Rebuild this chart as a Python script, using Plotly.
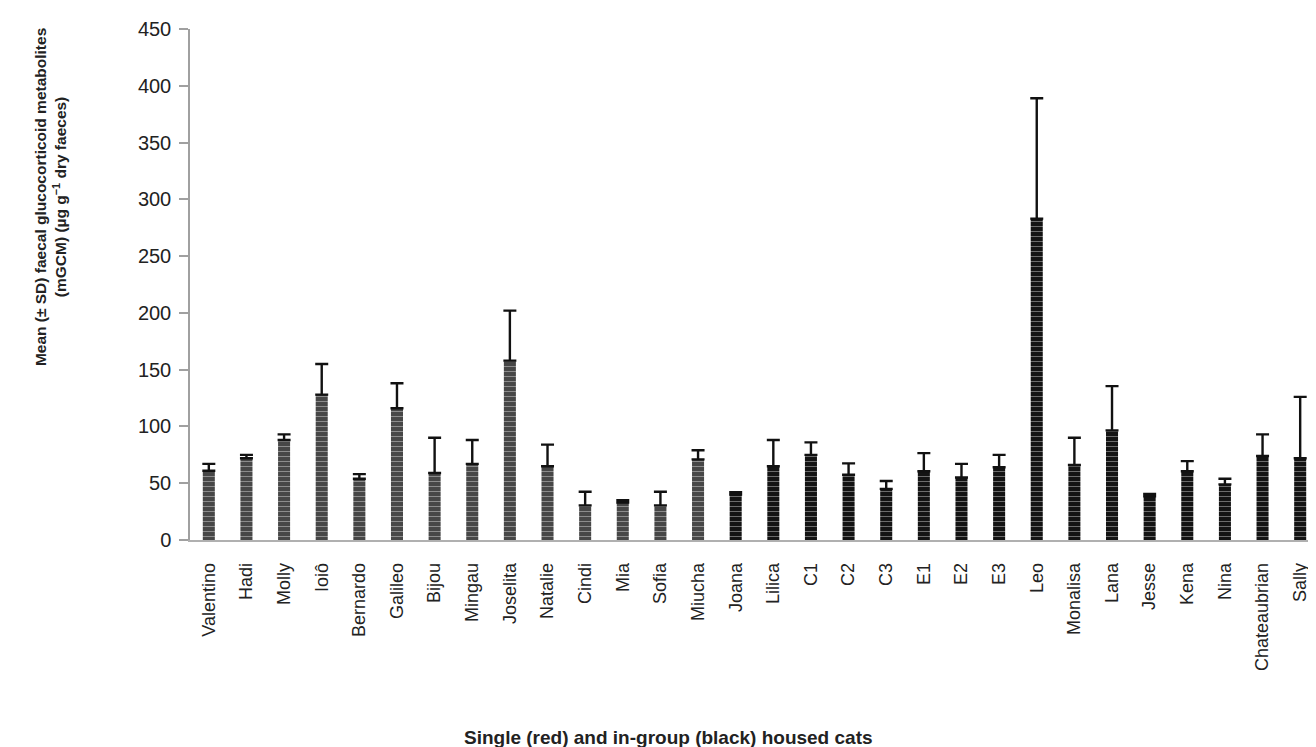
import plotly.graph_objects as go

cats = ["Valentino", "Hadi", "Molly", "Ioiô", "Bernardo", "Galileo", "Bijou", "Mingau",
        "Joselita", "Natalie", "Cindi", "Mia", "Sofia", "Miucha", "Joana", "Lilica",
        "C1", "C2", "C3", "E1", "E2", "E3", "Leo", "Monalisa", "Lana", "Jesse", "Kena",
        "Nina", "Chateaubrian", "Sally"]
mean_gcm = [61, 72, 88, 128, 54, 116, 59, 67,
            158, 65, 30.5, 33, 30.5, 71, 40, 65,
            75, 57.5, 45, 60.5, 55, 64, 283, 66, 96.5, 38.5, 60.5,
            49, 74, 72]
sd_gcm = [6, 3, 5, 27, 4, 22, 31, 21,
          44, 19, 12, 2, 12, 8, 2, 23,
          11, 10, 7, 16, 12, 11, 106, 24, 39, 2, 9,
          5, 19, 54]
housing = ["single", "single", "single", "single", "single", "single", "single", "single",
           "single", "single", "single", "single", "single", "single", "group", "group",
           "group", "group", "group", "group", "group", "group", "group", "group", "group",
           "group", "group", "group", "group", "group"]
y_ticks = [0, 50, 100, 150, 200, 250, 300, 350, 400, 450]

color_map = {"single": "#474747", "group": "#141414"}
bar_colors = [color_map[h] for h in housing]

fig = go.Figure()
fig.add_trace(go.Bar(
    x=cats, y=mean_gcm, width=0.32,
    marker=dict(color=bar_colors, line=dict(width=0),
                pattern=dict(shape="-", fgcolor="#9a9a9a", size=5, solidity=0.15,
                             fillmode="overlay")),
    error_y=dict(type="data", symmetric=False, array=sd_gcm,
                 arrayminus=[0] * len(sd_gcm), color="#111111", thickness=2.4, width=6.5),
    showlegend=False,
))

font_family = "Liberation Sans, Arial, sans-serif"
fig.update_layout(
    width=1316, height=747,
    margin=dict(l=182, r=5, t=21, b=215),
    plot_bgcolor="white", paper_bgcolor="white",
    font=dict(family=font_family, color="#222222"),
    xaxis=dict(
        type="category", tickangle=-90, showgrid=False, ticks="",
        showline=True, linecolor="#b0b0b0", linewidth=1.5,
        tickfont=dict(size=18, color="#222222"), ticklabelstandoff=14,
        zeroline=False,
    ),
    yaxis=dict(
        range=[0, 450], tickvals=y_ticks, showgrid=False, zeroline=False,
        showline=True, linecolor="#a0a0a0", linewidth=1.5,
        ticks="outside", ticklen=9, tickwidth=2, tickcolor="#a0a0a0",
        tickfont=dict(size=20, color="#222222"), ticklabelstandoff=4,
    ),
    annotations=[
        dict(text="<b>Mean (± SD) faecal glucocorticoid metabolites<br>(mGCM) (µg g<sup>−1</sup> dry faeces)</b>",
             xref="paper", yref="paper", x=-0.124, y=0.671, xanchor="center", yanchor="middle",
             textangle=-90, showarrow=False, font=dict(size=15.5, color="#222222")),
        dict(text="<b>Single (red) and in-group (black) housed cats</b>",
             xref="paper", yref="paper", x=0.4234, y=-0.387, xanchor="center", yanchor="middle",
             showarrow=False, font=dict(size=19, color="#222222")),
    ],
)
fig.write_html("out.html")
